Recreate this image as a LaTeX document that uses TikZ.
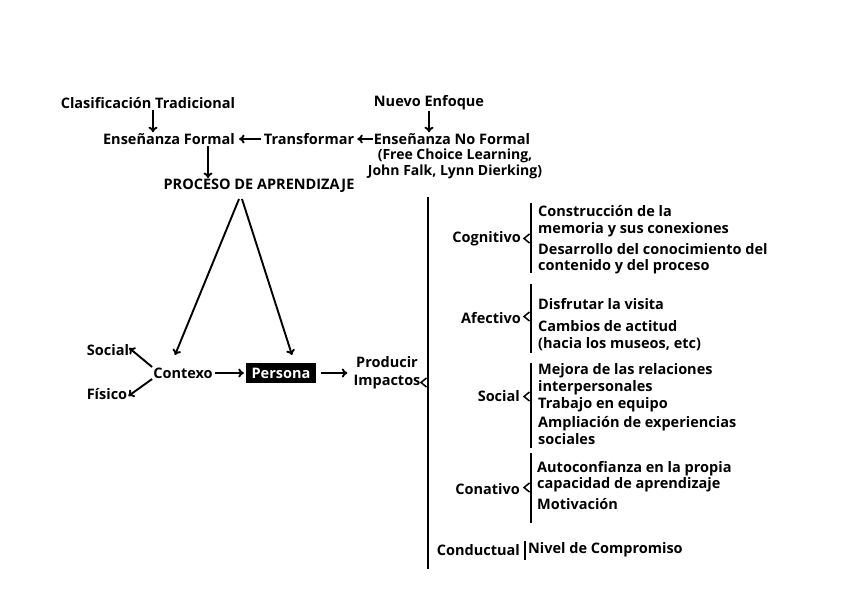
\documentclass[tikz,border=0pt]{standalone}
\usepackage{fontspec}
\setmainfont{Open Sans}
\usetikzlibrary{arrows.meta,calc}
\newcommand\dgfont{\fontsize{14.5}{16.5}\selectfont\bfseries}
\tikzset{
  lbl/.style={font=\dgfont, inner sep=1pt, text=black},
  itm/.style={font=\dgfont, inner sep=1pt, anchor=west, align=left},
  arr/.style={line width=1.9pt, -{To[length=5.5pt,width=9pt]}},
  brace/.style={line width=2pt},
  notch/.style={line width=1.5pt},
}
\begin{document}
\begin{tikzpicture}[x=1pt,y=-1pt]
\useasboundingbox[fill=white] (0,0) rectangle (845,597);

% top part
\node[lbl] (ct) at (148,103) {Clasificación Tradicional};
\node[lbl] (ne) at (429,103) {Nuevo Enfoque};
\node[lbl] (ef) at (169,139) {Enseñanza Formal};
\node[lbl] (tr) at (309,139) {Transformar};
\node[lbl] (enf) at (452,139) {Enseñanza No Formal};
\node[lbl, align=center, font=\fontsize{14}{15.5}\selectfont\bfseries] (fcl) at (455,164) {(Free Choice Learning,\\John Falk, Lynn Dierking)};
\node[lbl] (pa) at (259,186) {PROCESO DE APRENDIZAJE};

\draw[arr] ([xshift=5pt]ct.south) -- ([xshift=5pt]ct.south |- ef.north);
\draw[arr] (ne.south) -- (ne.south |- enf.north);
\draw[arr] (enf.west) -- ([xshift=2pt]tr.east);
\draw[arr] ([xshift=-2pt]tr.west) -- ([xshift=3pt]ef.east);
\draw[arr] ([xshift=39pt]ef.south) -- ([xshift=39pt]ef.south |- pa.north);

% middle part
\node[lbl] (ctx) at (183,373) {Contexo};
\node[lbl] (soc) at (108,350) {Social};
\node[lbl] (fis) at (107,394) {Físico};
\node[fill=black, text=white, font=\dgfont, minimum width=70pt, minimum height=20pt, inner sep=1pt] (per) at (281,373) {Persona};
\node[lbl, align=center, font=\fontsize{14.5}{18}\selectfont\bfseries] (prod) at (387,373) {Producir\\Impactos};

\coordinate (pl) at (239,199);
\coordinate (pr) at (242,199);
\coordinate (cl) at (175,355);
\coordinate (cr) at (292,355);
\draw[arr] (pl) -- (cl);
\draw[arr] (pr) -- (cr);
\draw[arr] ([yshift=6pt]ctx.west) -- ([xshift=-1pt,yshift=2pt]soc.east);
\draw[arr] ([yshift=-6pt]ctx.west) -- ([yshift=-2pt]fis.east);
\draw[arr] ([xshift=1pt]ctx.east) -- ([xshift=-2pt]per.west);
\draw[arr] ([xshift=5pt]per.east) -- ([xshift=-5pt]prod.west);

% big brace
\draw[brace] (428,197) -- (428,569);
\draw[notch] (426.5,378) -- (421,382.5) -- (426.5,387);

% Cognitivo
\node[lbl, anchor=east] (cog) at (522,239) {Cognitivo};
\draw[brace] (531,203) -- (531,273);
\draw[notch] (529.5,234) -- (524,238.5) -- (529.5,243);
\node[itm] (c1) at (537,221) {Construcción de la\\memoria y sus conexiones};
\node[itm] (c2) at (537,258.5) {Desarrollo del conocimiento del\\contenido y del proceso};

% Afectivo
\node[lbl, anchor=east] (afe) at (522,318) {Afectivo};
\draw[brace] (531,284) -- (531,353);
\draw[notch] (529.5,312) -- (524,316.5) -- (529.5,321);
\node[itm] (a1) at (537,304) {Disfrutar la visita};
\node[itm] (a2) at (537,335.5) {Cambios de actitud\\(hacia los museos, etc)};

% Social
\node[lbl, anchor=east] (sci) at (521,396) {Social};
\draw[brace] (531,363) -- (531,448);
\draw[notch] (529.5,392) -- (524,396.5) -- (529.5,401);
\node[itm] (s1) at (537,379) {Mejora de las relaciones\\interpersonales};
\node[itm] (s2) at (537,404.5) {Trabajo en equipo};
\node[itm] (s3) at (537,430.5) {Ampliación de experiencias\\sociales};

% Conativo
\node[lbl, anchor=east] (con) at (521,489) {Conativo};
\draw[brace] (531,453) -- (531,523);
\draw[notch] (529.5,483) -- (524,487.5) -- (529.5,492);
\node[itm] (k1) at (536,476.5) {Autoconfianza en la propia\\capacidad de aprendizaje};
\node[itm] (k2) at (536,504.5) {Motivación};

% Conductual
\node[lbl, anchor=east] (cnd) at (521,550) {Conductual};
\draw[brace] (525,541) -- (525,560);
\node[itm] (n1) at (527,550) {Nivel de Compromiso};
\end{tikzpicture}
\end{document}
